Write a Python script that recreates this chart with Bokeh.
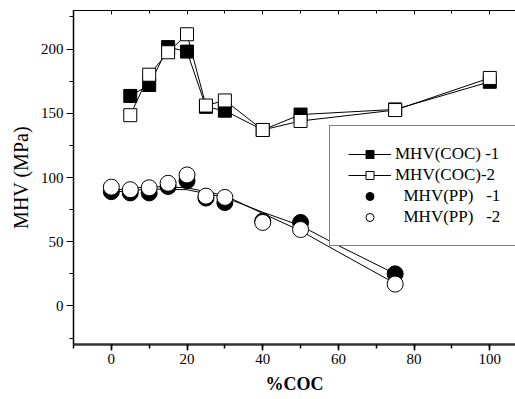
from bokeh.plotting import figure
from bokeh.models import (LinearAxis, SingleIntervalTicker, Range1d, Legend, LegendItem,
                          CustomJSTickFormatter, CDSView, IndexFilter)
from bokeh.embed import file_html
from bokeh.resources import INLINE

# ---- data ----
x_coc = [5, 10, 15, 20, 25, 30, 40, 50, 75, 100]
mhv_coc_1 = [163.5, 172, 201.5, 198, 155, 152, 137, 149, 153, 174.5]
mhv_coc_2 = [148.5, 180, 197.5, 211.5, 156, 160, 137, 144, 152.5, 177.5]

x_pp = [0, 5, 10, 15, 20, 25, 30, 40, 50, 75]
mhv_pp_1 = [89, 88, 88, 93, 97.5, 84, 80.5, 66, 65, 25]
mhv_pp_2 = [92.5, 90.5, 92, 95.5, 102, 85.5, 84.5, 65, 59.5, 17]

# fitted curves for PP
x_fit = [0, 10, 20, 30, 40, 50, 60, 75]
fit_pp_1 = [88.5, 91, 90.5, 84.5, 73, 62.5, 47, 25]
fit_pp_2 = [90, 93, 92, 86, 72, 58.5, 42, 17.5]

legend_labels = ["MHV(COC) -1", "MHV(COC)-2",
                 "\u00a0\u00a0MHV(PP)\u00a0\u00a0\u00a0-1", "\u00a0\u00a0MHV(PP)\u00a0\u00a0\u00a0-2"]

FONT = "Liberation Serif"

p = figure(frame_width=442, frame_height=334, output_backend="svg", toolbar_location=None,
           x_range=Range1d(-10, 106.8), y_range=Range1d(-30, 230),
           min_border_left=73, min_border_right=0, min_border_top=10, min_border_bottom=10,
           x_axis_location="below", y_axis_location="left")
p.outline_line_color = None
p.xgrid.visible = False
p.ygrid.visible = False
p.background_fill_color = "white"
p.border_fill_color = "white"

xt = SingleIntervalTicker(interval=20, num_minor_ticks=2)
yt = SingleIntervalTicker(interval=50, num_minor_ticks=2)

xa = p.xaxis[0]
xa.ticker = xt
xa.axis_label = "%COC"
xa.axis_label_text_font = FONT
xa.axis_label_text_font_style = "bold"
xa.axis_label_text_font_size = "18px"
xa.axis_label_text_color = "black"
xa.axis_label_standoff = 7
xa.major_label_text_font = FONT
xa.major_label_text_font_size = "15px"
xa.major_label_text_color = "black"
xa.major_label_standoff = 3
xa.axis_line_width = 2.5
xa.axis_line_color = "#333333"
xa.major_tick_out = 6
xa.major_tick_in = 0
xa.minor_tick_out = 4
xa.minor_tick_in = 0
xa.major_tick_line_width = 1.5
xa.minor_tick_line_width = 1.5

ya = p.yaxis[0]
ya.ticker = yt
ya.axis_label = "MHV (MPa)"
ya.axis_label_text_font = FONT
ya.axis_label_text_font_style = "normal"
ya.axis_label_text_font_size = "20px"
ya.axis_label_text_color = "black"
ya.axis_label_standoff = 6
ya.major_label_text_font = FONT
ya.major_label_text_font_size = "15px"
ya.major_label_text_color = "black"
ya.major_label_standoff = 3
ya.axis_line_width = 1.5
ya.axis_line_color = "black"
ya.major_tick_out = 7
ya.major_tick_in = 0
ya.minor_tick_out = 4
ya.minor_tick_in = 0
ya.major_tick_line_width = 1.2
ya.minor_tick_line_width = 1.2

top = LinearAxis(ticker=SingleIntervalTicker(interval=20, num_minor_ticks=2),
                 formatter=CustomJSTickFormatter(code="return ''"),
                 major_tick_in=4, major_tick_out=0, minor_tick_in=3, minor_tick_out=0,
                 major_label_standoff=0, major_label_text_font_size="1px",
                 axis_line_color="black", axis_line_width=1.2)
p.add_layout(top, "above")

# lines
l1 = p.line(x_coc, mhv_coc_1, line_color="black", line_width=1)
l2 = p.line(x_coc, mhv_coc_2, line_color="black", line_width=1)
p.line(x_fit, fit_pp_1, line_color="black", line_width=1)
p.line(x_fit, fit_pp_2, line_color="black", line_width=1)

# small legend-symbol renderers: only the first point, hidden beneath the big markers
lg_s1 = p.scatter(x_coc, mhv_coc_1, marker="square", size=7, fill_color="black",
                  line_color="black", view=CDSView(filter=IndexFilter(indices=[0])))
lg_s2 = p.scatter(x_coc, mhv_coc_2, marker="square", size=7, fill_color="white",
                  line_color="black", view=CDSView(filter=IndexFilter(indices=[0])))
lg_c1 = p.scatter(x_pp, mhv_pp_1, marker="circle", size=8, fill_color="black",
                  line_color="black", view=CDSView(filter=IndexFilter(indices=[0])))
lg_c2 = p.scatter(x_pp, mhv_pp_2, marker="circle", size=8, fill_color="white",
                  line_color="black", view=CDSView(filter=IndexFilter(indices=[0])))

# markers
p.scatter(x_coc, mhv_coc_1, marker="square", size=13, fill_color="black",
          line_color="black", line_width=1)
p.scatter(x_pp, mhv_pp_1, marker="circle", size=16, fill_color="black",
          line_color="black", line_width=1)
p.scatter(x_coc, mhv_coc_2, marker="square", size=13, fill_color="white",
          line_color="black", line_width=1)
p.scatter(x_pp, mhv_pp_2, marker="circle", size=16, fill_color="white",
          line_color="black", line_width=1)

legend = Legend(items=[
    LegendItem(label=legend_labels[0], renderers=[l1, lg_s1], index=0),
    LegendItem(label=legend_labels[1], renderers=[l2, lg_s2], index=0),
    LegendItem(label=legend_labels[2], renderers=[lg_c1], index=0),
    LegendItem(label=legend_labels[3], renderers=[lg_c2], index=0),
], location=(256, 98), orientation="vertical",
    label_text_font=FONT, label_text_font_size="17px", label_text_color="black",
    glyph_width=43, glyph_height=20, label_height=20, label_width=140,
    label_standoff=4, spacing=1, padding=18, margin=0,
    border_line_color="black", border_line_width=1, background_fill_alpha=1)
p.add_layout(legend, "center")

open("out.html", "w").write(file_html(p, INLINE))
